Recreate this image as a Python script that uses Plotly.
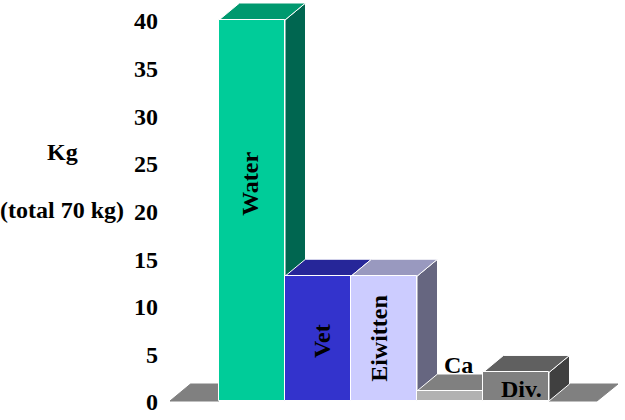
import plotly.graph_objects as go

categories = ["Water", "Vet", "Eiwitten", "Ca", "Div."]
values = [40, 13.1, 13.1, 1.05, 3]
front = ["#00CC99", "#3333CC", "#CCCCFF", "#B2B2B2", "#808080"]
top = ["#00996F", "#262699", "#9999BF", "#808080", "#606060"]
side = ["#006650", "#1A1A66", "#666680", "#595959", "#404040"]
y_ticks = [0, 5, 10, 15, 20, 25, 30, 35, 40]

PX_X, PX_Y = 66.0, 9.525
DX, DY = 20.5 / PX_X, 17.0 / PX_Y
L, B = 165, 0
x_range = [(L - 219) / PX_X - 0.5, (625 - 219) / PX_X - 0.5]
y_range = [-(420 - 401) / PX_Y, 401 / PX_Y]
FONT = "Liberation Serif"
xs = list(range(len(categories)))

fig = go.Figure()


def poly(px, py, color, line="white"):
    fig.add_trace(go.Scatter(
        x=px + [px[0]], y=py + [py[0]], mode="lines", fill="toself",
        fillcolor=color, line=dict(color=line, width=1),
        hoverinfo="skip", showlegend=False, xaxis="x", yaxis="y"))


# floor on both sides of the bars
left, right = xs[0] - 0.5, xs[-1] + 0.5
poly([left - 49 / PX_X, left - 49 / PX_X + DX, left, left], [0, DY, DY, 0], "#808080", "#808080")
poly([right, right + DX, right + 69 / PX_X, right + 48 / PX_X], [0, DY, DY, 0], "#808080", "#808080")

# depth faces, left to right, so each top hides the neighbour's side
for i, v in zip(xs, values):
    x0, x1 = i - 0.5, i + 0.5
    poly([x1, x1 + DX, x1 + DX, x1], [0, DY, v + DY, v], side[i])
    poly([x0, x0 + DX, x1 + DX, x1], [v, v + DY, v + DY, v], top[i])

fig.add_trace(go.Bar(
    x=xs, y=values, width=1, marker=dict(color=front, line=dict(color="white", width=1)),
    hoverinfo="skip", showlegend=False, xaxis="x2", yaxis="y2"))

# invisible trace that carries the tick-label axis (labels sit 1 px under the grid position)
fig.add_trace(go.Scatter(x=xs, y=values, mode="markers", marker=dict(opacity=0, size=1),
                         hoverinfo="skip", showlegend=False, xaxis="x2", yaxis="y3"))

bold = dict(family=FONT, size=24, color="black", weight="bold")
labels = [
    ("Water", -0.03, 22.8, -90),
    ("Vet", 1.07, 6.25, -90),
    ("Eiwitten", 1.92, 6.6, -90),
    ("Ca", 3.13, 3.75, 0),
    ("Div.", 4.08, 1.3, 0),
]
ann = [dict(text=t, x=x, y=y, xref="x2", yref="y2", textangle=a, showarrow=False, font=bold)
       for t, x, y, a in labels]
ann += [
    dict(text="Kg", x=62 / 625, y=1 - 152 / 420, xref="paper", yref="paper", xanchor="center",
         showarrow=False, font=bold),
    dict(text="(total 70 kg)", x=62 / 625, y=1 - 210 / 420, xref="paper", yref="paper", xanchor="center",
         showarrow=False, font=bold),
]
axis_off = dict(showgrid=False, zeroline=False, showline=False, showticklabels=False, ticks="")
dom = [L / 625, 1]
shift = 1.0 / PX_Y
fig.update_layout(
    width=625, height=420, autosize=False, paper_bgcolor="white", plot_bgcolor="white",
    margin=dict(l=0, r=0, t=0, b=0), showlegend=False, annotations=ann, bargap=0,
    xaxis=dict(domain=dom, range=x_range, **axis_off),
    yaxis=dict(range=y_range, **axis_off),
    xaxis2=dict(domain=dom, range=x_range, overlaying="x", anchor="y2", **axis_off),
    yaxis2=dict(range=y_range, overlaying="y", anchor="x2", **axis_off),
    yaxis3=dict(range=[y_range[0] + shift, y_range[1] + shift], overlaying="y", anchor="x2",
                showgrid=False, zeroline=False, showline=False, ticks="",
                tickmode="array", tickvals=y_ticks, ticktext=[str(t) for t in y_ticks],
                ticklabelstandoff=6, tickfont=bold, automargin=False),
)
fig.write_html("out.html", config=dict(displayModeBar=False),
               post_script="document.body.style.margin='0';document.body.style.overflow='hidden';")
